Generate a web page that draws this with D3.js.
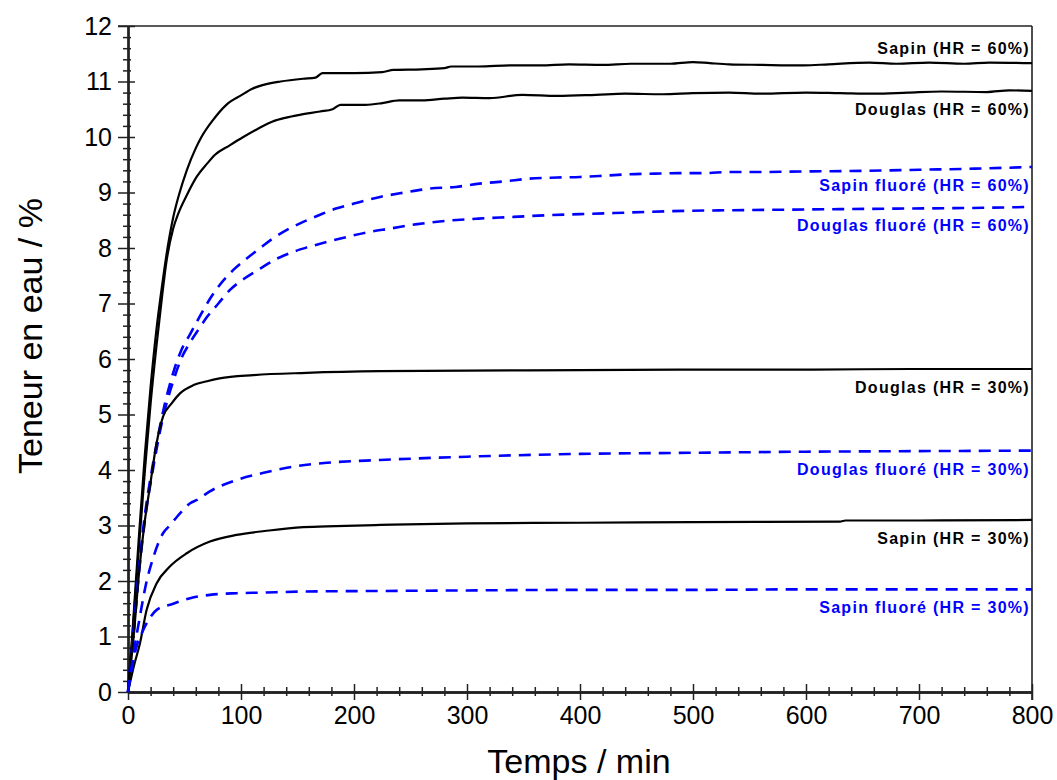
<!DOCTYPE html>
<html>
<head>
<meta charset="utf-8">
<script src="https://cdn.jsdelivr.net/npm/d3@7"></script>
<style>
  html, body { margin: 0; padding: 0; background: #fff; }
  svg { display: block; }
</style>
</head>
<body>
<svg id="chart" width="1057" height="780"></svg>
<script>
// ---- Data (time in min, water content in %) ----
const sapin60 = [[0,0],[3,0.8],[6,1.7],[10,2.9],[15,4.3],[20,5.5],[25,6.5],[30,7.3],[35,8.0],[40,8.55],[45,8.95],[52,9.4],[60,9.8],[65,10.0],[75,10.3],[87,10.58],[100,10.75],[110,10.87],[120,10.94],[135,11.0],[155,11.05],[166,11.07],[172,11.15],[200,11.15],[225,11.17],[235,11.21],[260,11.22],[280,11.24],[286,11.27],[310,11.27],[340,11.29],[365,11.29],[390,11.31],[420,11.3],[445,11.32],[480,11.32],[500,11.35],[515,11.33],[532,11.31],[560,11.3],[598,11.29],[620,11.31],[656,11.34],[680,11.32],[709,11.34],[740,11.32],[762,11.34],[800,11.33]];
const douglas60 = [[0,0],[3,0.75],[6,1.6],[10,2.7],[15,4.0],[20,5.2],[25,6.2],[30,7.1],[34,7.75],[40,8.35],[44.5,8.62],[52,8.95],[60.7,9.28],[70,9.52],[77,9.68],[90,9.85],[102,10.0],[115,10.15],[128,10.28],[140,10.35],[152,10.4],[170,10.46],[181,10.5],[188,10.58],[210,10.58],[225,10.61],[240,10.66],[260,10.66],[280,10.69],[296,10.71],[320,10.7],[349,10.76],[380,10.74],[414,10.76],[440,10.78],[473,10.77],[500,10.79],[532,10.8],[560,10.78],[600,10.8],[630,10.79],[660,10.78],[690,10.8],[720,10.82],[760,10.81],[780,10.84],[800,10.83]];
const sapinFluo60 = [[0,0],[5,1.1],[10,2.3],[15,3.2],[22,4.1],[31,5.05],[40,5.75],[47,6.15],[55,6.45],[65,6.82],[73,7.1],[81,7.33],[93,7.6],[105,7.81],[117,8.0],[128,8.17],[141,8.33],[155,8.47],[170,8.6],[184,8.71],[200,8.8],[223,8.92],[245,9.0],[267,9.07],[290,9.1],[311,9.16],[333,9.2],[355,9.25],[380,9.27],[400,9.28],[420,9.3],[444,9.33],[466,9.34],[488,9.35],[510,9.35],[532,9.37],[560,9.37],[600,9.38],[650,9.39],[700,9.41],[750,9.43],[800,9.46]];
const douglasFluo60 = [[0,0],[5,1.05],[10,2.2],[15,3.1],[22,4.0],[31,4.95],[40,5.6],[47,6.0],[55,6.3],[63,6.55],[70,6.76],[80,7.0],[90,7.24],[103,7.45],[117,7.63],[131,7.8],[146,7.93],[160,8.02],[176,8.11],[194,8.2],[211,8.28],[232,8.35],[256,8.43],[282,8.49],[310,8.53],[341,8.56],[370,8.59],[400,8.61],[430,8.63],[459,8.65],[495,8.67],[532,8.68],[580,8.69],[630,8.7],[680,8.71],[740,8.72],[800,8.74]];
const douglas30 = [[0,0],[5,1.0],[10,2.2],[15,3.1],[19.4,3.7],[25,4.45],[31,4.96],[38.6,5.2],[46,5.38],[58,5.53],[70,5.6],[81,5.65],[111,5.71],[158,5.75],[223,5.78],[300,5.79],[400,5.8],[500,5.81],[600,5.81],[700,5.82],[800,5.82]];
const douglasFluo30 = [[0,0],[5,0.7],[10,1.3],[16,1.95],[22,2.4],[31,2.86],[37,3.0],[46,3.22],[55,3.4],[61,3.46],[72,3.61],[96,3.82],[120,3.95],[146,4.06],[176,4.13],[223,4.18],[300,4.24],[400,4.29],[500,4.31],[600,4.33],[700,4.34],[800,4.35]];
const sapin30 = [[0,0],[5,0.45],[10.6,0.88],[16.5,1.48],[25.4,1.96],[37,2.26],[52,2.5],[72.5,2.71],[96,2.83],[125,2.91],[155,2.97],[184,2.99],[223,3.01],[300,3.04],[400,3.05],[500,3.06],[630,3.07],[635,3.09],[700,3.09],[800,3.1]];
const sapinFluo30 = [[0,0],[4,0.5],[8,0.85],[12,1.05],[15,1.18],[25.4,1.48],[40,1.59],[55,1.69],[72.5,1.75],[96,1.78],[117,1.79],[155,1.81],[223,1.82],[300,1.83],[400,1.84],[500,1.84],[600,1.85],[700,1.85],[800,1.85]];

const seriesNames = ["Sapin (HR = 60%)","Douglas (HR = 60%)","Sapin fluoré (HR = 60%)","Douglas fluoré (HR = 60%)","Douglas (HR = 30%)","Douglas fluoré (HR = 30%)","Sapin (HR = 30%)","Sapin fluoré (HR = 30%)"];
const seriesData = [sapin60, douglas60, sapinFluo60, douglasFluo60, douglas30, douglasFluo30, sapin30, sapinFluo30];
const seriesFluoré = [false, false, true, true, false, true, false, true];

const xTicks = [0,100,200,300,400,500,600,700,800];
const yTicks = [0,1,2,3,4,5,6,7,8,9,10,11,12];
const xTitle = "Temps / min";
const yTitle = "Teneur en eau / %";

// ---- Layout ----
const svg = d3.select("#chart");
const L = 128, R = 1032, T = 26, B = 692;
const x = d3.scaleLinear().domain([0, 800]).range([L, R]);
const y = d3.scaleLinear().domain([0, 12]).range([B, T]);
const axisColor = "#222";
const font = "'Liberation Sans', Arial, sans-serif";

// frame (top & right)
svg.append("line").attr("x1", L - 10).attr("x2", R).attr("y1", T).attr("y2", T)
  .attr("stroke", axisColor).attr("stroke-width", 1.6);
svg.append("line").attr("x1", R).attr("x2", R).attr("y1", T).attr("y2", B + 8)
  .attr("stroke", axisColor).attr("stroke-width", 1.6);

// y axis: minor & major ticks, crossing the axis line
const yMinor = d3.range(0, 12.001, 0.2).filter(v => Math.abs(v - Math.round(v)) > 1e-6);
function styleAxis(g) {
  g.selectAll("path").attr("stroke", axisColor).attr("stroke-width", 1.8);
  g.selectAll("line").attr("stroke", axisColor).attr("stroke-width", 1.5);
}
svg.append("g").attr("transform", `translate(${L},0)`)
  .call(d3.axisLeft(y).tickValues(yMinor).tickSize(5).tickFormat("").tickSizeOuter(0))
  .call(styleAxis);
svg.append("g").attr("transform", `translate(${L},0)`)
  .call(d3.axisRight(y).tickValues(yMinor).tickSize(3).tickFormat("").tickSizeOuter(0))
  .call(styleAxis);
svg.append("g").attr("transform", `translate(${L},0)`)
  .call(d3.axisRight(y).tickValues(yTicks).tickSize(7).tickFormat("").tickSizeOuter(0))
  .call(styleAxis);
const yAx = svg.append("g").attr("transform", `translate(${L},0)`)
  .call(d3.axisLeft(y).tickValues(yTicks).tickSize(10).tickPadding(6).tickFormat(d3.format("d")).tickSizeOuter(0))
  .call(styleAxis);
yAx.selectAll("text").attr("font-family", font).attr("font-size", 25).attr("fill", "#000");

// x axis
const xMinor = d3.range(0, 800.001, 20).filter(v => v % 100 !== 0);
svg.append("g").attr("transform", `translate(0,${B})`)
  .call(d3.axisBottom(x).tickValues(xMinor).tickSize(4).tickFormat("").tickSizeOuter(0))
  .call(styleAxis);
svg.append("g").attr("transform", `translate(0,${B})`)
  .call(d3.axisTop(x).tickValues(xMinor).tickSize(5).tickFormat("").tickSizeOuter(0))
  .call(styleAxis);
svg.append("g").attr("transform", `translate(0,${B})`)
  .call(d3.axisTop(x).tickValues(xTicks).tickSize(8).tickFormat("").tickSizeOuter(0))
  .call(styleAxis);
const xAx = svg.append("g").attr("transform", `translate(0,${B})`)
  .call(d3.axisBottom(x).tickValues(xTicks).tickSize(8).tickPadding(6).tickFormat(d3.format("d")).tickSizeOuter(0))
  .call(styleAxis);
xAx.selectAll("text").attr("font-family", font).attr("font-size", 25).attr("fill", "#000");

// axis titles
svg.append("text").attr("x", 579).attr("y", 773).attr("text-anchor", "middle")
  .attr("font-family", font).attr("font-size", 34).attr("fill", "#000").text(xTitle);
svg.append("text").attr("transform", `translate(42,336) rotate(-90)`)
  .attr("text-anchor", "middle").attr("font-family", font).attr("font-size", 34)
  .attr("fill", "#000").text(yTitle);

// curves
const line = d3.line().x(d => x(d[0])).y(d => y(d[1])).curve(d3.curveMonotoneX);
const blue = "#0000ff";
seriesData.forEach((data, i) => {
  const fl = seriesFluoré[i];
  svg.append("path").datum(data).attr("d", line)
    .attr("fill", "none")
    .attr("stroke", fl ? blue : "#000")
    .attr("stroke-width", fl ? 2.6 : 2.2)
    .attr("stroke-dasharray", fl ? "12,8" : null)
    .attr("stroke-linejoin", "round");
});

// labels at the right end of each curve
seriesData.forEach((data, i) => {
  const last = data[data.length - 1];
  const above = i === 0;
  svg.append("text")
    .attr("x", R - 2)
    .attr("y", y(last[1]) + (above ? -9 : 24))
    .attr("text-anchor", "end")
    .attr("font-family", font).attr("font-weight", "bold").attr("font-size", 16)
    .attr("letter-spacing", "1.3px")
    .attr("fill", seriesFluoré[i] ? blue : "#000")
    .text(seriesNames[i]);
});
</script>
</body>
</html>
